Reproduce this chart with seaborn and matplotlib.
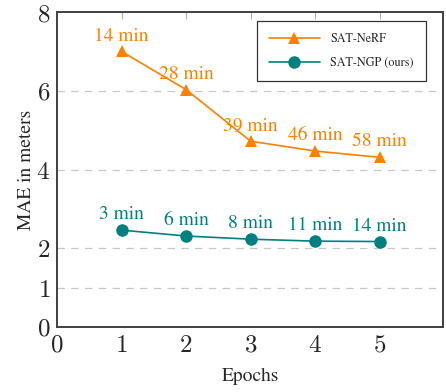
import matplotlib
matplotlib.use("Agg")
import matplotlib.pyplot as plt
import seaborn as sns
import pandas as pd

# values
epochs = [1, 2, 3, 4, 5]
nerf_mae = [7.0, 6.03, 4.72, 4.47, 4.31]
ngp_mae = [2.46, 2.31, 2.23, 2.18, 2.17]
nerf_time = ["14 min", "28 min", "39 min", "46 min", "58 min"]
ngp_time = ["3 min", "6 min", "8 min", "11 min", "14 min"]
x_ticks = [0, 1, 2, 3, 4, 5]
y_ticks = [0, 1, 2, 4, 6, 8]

ORANGE = "#FF8000"
TEAL = "#008080"

sns.set_style("white")
plt.rcParams["font.family"] = ["STIXGeneral", "Liberation Serif", "DejaVu Serif"]
plt.rcParams["mathtext.fontset"] = "cm"

df = pd.DataFrame({
    "epoch": epochs * 2,
    "mae": nerf_mae + ngp_mae,
    "method": ["SAT-NeRF"] * 5 + ["SAT-NGP (ours)"] * 5,
})

fig = plt.figure(figsize=(4.46, 3.92), dpi=100)
ax = fig.add_axes([0.128, 0.166, 0.865, 0.803])

sns.lineplot(data=df, x="epoch", y="mae", hue="method", style="method",
             palette=[ORANGE, TEAL], markers=["^", "o"], dashes=False,
             markersize=9, markeredgewidth=0, linewidth=1.2, ax=ax)

for x, y, t in zip(epochs, nerf_mae, nerf_time):
    ax.annotate(t, (x, y), xytext=(0, 5), textcoords="offset points",
                ha="center", va="bottom", color=ORANGE, fontsize=14)
for x, y, t in zip(epochs, ngp_mae, ngp_time):
    ax.annotate(t, (x, y), xytext=(0, 5), textcoords="offset points",
                ha="center", va="bottom", color=TEAL, fontsize=14)

ax.set_xlim(0, 5.98)
ax.set_ylim(0, 8)
ax.set_xticks(x_ticks)
ax.set_xticklabels([f"${v}$" for v in x_ticks], fontsize=18)
ax.set_yticks(y_ticks)
ax.set_yticklabels([f"${v}$" for v in y_ticks], fontsize=18)
ax.tick_params(axis="x", direction="in", length=5, color="#b0b0b0",
               top=True, pad=5)
ax.tick_params(axis="y", length=0, pad=5)

for yv in [1, 2, 4, 6]:
    ax.axhline(yv, color="#c8c8c8", lw=0.9, ls=(0, (6, 5)), zorder=0)

for s in ax.spines.values():
    s.set_color("#404040")
    s.set_linewidth(1.4)

ax.set_xlabel("Epochs", fontsize=14, labelpad=7)
ax.set_ylabel("MAE in meters", fontsize=14, labelpad=1)

leg = ax.legend(loc="upper right", bbox_to_anchor=(0.972, 0.99), fontsize=8.7,
                frameon=True, fancybox=False, edgecolor="black",
                handlelength=4.2, handletextpad=0.9, borderpad=1.0,
                labelspacing=1.0)
leg.get_frame().set_linewidth(0.9)

fig.savefig("out.png", dpi=100)
